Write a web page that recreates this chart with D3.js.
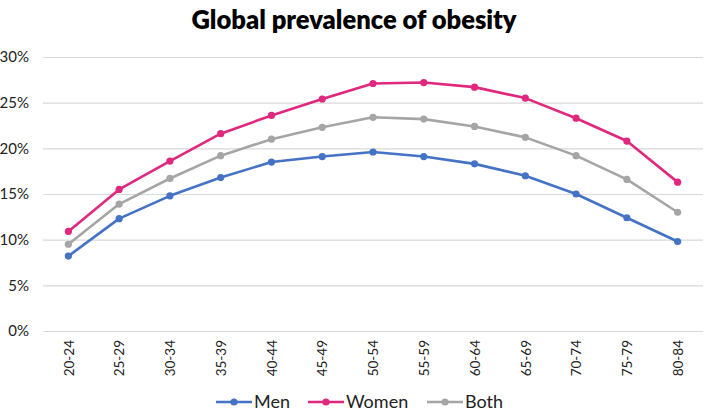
<!DOCTYPE html>
<html><head><meta charset="utf-8">
<script src="https://cdn.jsdelivr.net/npm/d3@7"></script>
<style>body{margin:0;background:#fff}svg{display:block}text{font-family:Lato,"Open Sans",sans-serif}</style>
</head><body><svg id="c" width="708" height="416"></svg>
<script>
const categories = ["20-24","25-29","30-34","35-39","40-44","45-49","50-54","55-59","60-64","65-69","70-74","75-79","80-84"];
const men   = [8.2,12.3,14.8,16.8,18.5,19.1,19.6,19.1,18.3,17.0,15.0,12.4,9.8];
const women = [10.9,15.5,18.6,21.6,23.6,25.4,27.1,27.2,26.7,25.5,23.3,20.8,16.3];
const both  = [9.5,13.9,16.7,19.2,21.0,22.3,23.4,23.2,22.4,21.2,19.2,16.6,13.0];
const yTicks = [0,5,10,15,20,25,30];
const seriesNames = ["Men","Women","Both"];
const seriesColors = ["#4472C4","#E0287E","#A5A5A5"];
const seriesData = [men, women, both];

const svg = d3.select("#c");
const x = d3.scalePoint().domain(categories).range([43,703]).padding(0.5);
const y = d3.scaleLinear().domain([0,30]).range([331,57]);

svg.append("text").attr("x",354).attr("y",29).attr("text-anchor","middle")
  .attr("font-size",25.5).attr("font-weight",800).attr("fill","#000").text("Global prevalence of obesity");

const yAxis = svg.append("g").attr("transform","translate(43,0)")
  .call(d3.axisLeft(y).tickValues(yTicks).tickFormat(d=>d+"%").tickSize(-660).tickPadding(14));
yAxis.select(".domain").remove();
yAxis.selectAll("line").attr("stroke","#d9d9d9").attr("stroke-width",1.2);
yAxis.selectAll("text").attr("font-size",15).attr("fill","#222");

const xAxis = svg.append("g").attr("transform","translate(0,331)")
  .call(d3.axisBottom(x).tickSize(0).tickPadding(0));
xAxis.select(".domain").remove();
xAxis.selectAll("text").attr("font-size",13.5).attr("fill","#222")
  .attr("text-anchor","end").attr("dy","0.35em")
  .attr("transform","translate(0,9) rotate(-90)");

seriesData.forEach((vals,i)=>{
  const g = svg.append("g");
  const pts = categories.map((c,j)=>[c,vals[j]]);
  g.append("path").datum(pts).attr("fill","none").attr("stroke",seriesColors[i])
    .attr("stroke-width",2.6).attr("stroke-linejoin","round")
    .attr("d",d3.line().x(d=>x(d[0])).y(d=>y(d[1])));
  g.selectAll("circle").data(pts).join("circle")
    .attr("cx",d=>x(d[0])).attr("cy",d=>y(d[1])).attr("r",3.6).attr("fill",seriesColors[i]);
});

const legX = [216,308,427];
const leg = svg.append("g");
seriesNames.forEach((n,i)=>{
  const g = leg.append("g").attr("transform",`translate(${legX[i]},402)`);
  g.append("line").attr("x1",0).attr("x2",36).attr("stroke",seriesColors[i]).attr("stroke-width",2.6);
  g.append("circle").attr("cx",18).attr("r",3.6).attr("fill",seriesColors[i]);
  g.append("text").attr("x",38).attr("dy","0.35em").attr("font-size",18).attr("fill","#222").text(n);
});
</script></body></html>
